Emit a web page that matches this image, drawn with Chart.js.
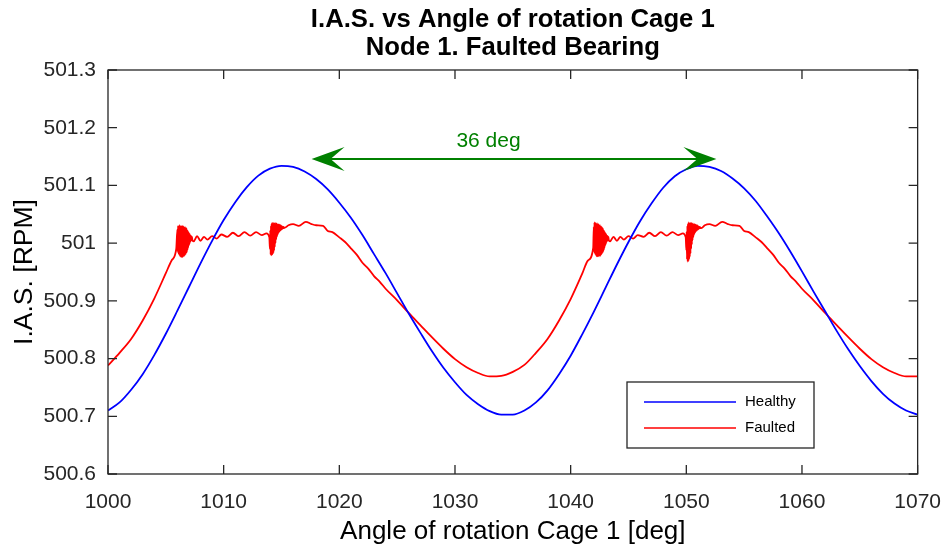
<!DOCTYPE html>
<html>
<head>
<meta charset="utf-8">
<script src="https://cdn.jsdelivr.net/npm/chart.js@4.4.1/dist/chart.umd.min.js"></script>
<style>
  html, body { margin: 0; padding: 0; background: #fff; }
  #wrap { width: 949px; height: 548px; position: relative; }
</style>
</head>
<body>
<div id="wrap"><canvas id="ias"></canvas></div>
<script>
const titleLines = ['I.A.S. vs Angle of rotation Cage 1', 'Node 1. Faulted Bearing']
const xTicks = [1000, 1010, 1020, 1030, 1040, 1050, 1060, 1070]
const yTicks = [500.6, 500.7, 500.8, 500.9, 501, 501.1, 501.2, 501.3]

// healthy, one value per degree from 1000 to 1070
const healthyStart = 1000
const healthy = [
  500.710, 500.724, 500.746, 500.773, 500.806, 500.843, 500.883, 500.924, 500.965, 501.004,
  501.040, 501.071, 501.097, 501.117, 501.129, 501.134, 501.132, 501.124, 501.111, 501.093,
  501.070, 501.044, 501.014, 500.981, 500.948, 500.913, 500.878, 500.845, 500.813, 500.784,
  500.759, 500.737, 500.721, 500.709, 500.703, 500.703, 500.710, 500.724, 500.745, 500.773,
  500.805, 500.842, 500.881, 500.922, 500.963, 501.002, 501.038, 501.069, 501.096, 501.116,
  501.128, 501.134, 501.132, 501.125, 501.112, 501.095, 501.073, 501.046, 501.017, 500.985,
  500.951, 500.916, 500.882, 500.848, 500.816, 500.787, 500.761, 500.739, 500.722, 500.710,
  500.703
]

// faulted, smooth part
const faultedAngles = [
  1000, 1001, 1002, 1003, 1004, 1005, 1005.5, 1005.9,
  1007.4, 1007.7, 1008, 1008.3, 1008.6, 1009, 1009.4, 1009.8, 1010.3, 1010.8, 1011.3, 1011.8,
  1012.3, 1012.8, 1013.3, 1013.7, 1013.95,
  1015.3, 1015.6, 1016, 1016.5, 1017.1, 1017.6, 1018, 1018.6, 1019, 1019.4, 1020, 1020.5,
  1021, 1021.5, 1022, 1022.5, 1023, 1023.5, 1024, 1025, 1026, 1027, 1028, 1029, 1030, 1031,
  1032, 1033, 1034, 1035, 1036, 1037, 1038, 1039, 1040, 1041, 1041.5, 1041.95,
  1043.4, 1043.7, 1044, 1044.3, 1044.6, 1045, 1045.4, 1045.8, 1046.3, 1046.8, 1047.3, 1047.8,
  1048.3, 1048.8, 1049.3, 1049.7, 1049.95,
  1051.3, 1051.6, 1052, 1052.5, 1053.1, 1053.6, 1054, 1054.6, 1055, 1055.4, 1056, 1056.5,
  1057, 1057.5, 1058, 1058.5, 1059, 1059.5, 1060, 1061, 1062, 1063, 1064, 1065, 1066, 1067,
  1068, 1069, 1070
]
const faultedValues = [
  500.788, 500.810, 500.834, 500.866, 500.904, 500.948, 500.970, 500.990,
  501.003, 501.012, 501.004, 501.011, 501.006, 501.012, 501.008, 501.015, 501.011, 501.018, 501.012, 501.019,
  501.013, 501.019, 501.014, 501.017, 501.010,
  501.027, 501.031, 501.033, 501.030, 501.037, 501.033, 501.031, 501.030, 501.021, 501.019, 501.010, 501.002,
  500.991, 500.980, 500.966, 500.956, 500.943, 500.933, 500.921, 500.901, 500.879, 500.858, 500.837, 500.817, 500.799, 500.785,
  500.775, 500.769, 500.770, 500.777, 500.789, 500.810, 500.834, 500.866, 500.903, 500.947, 500.970, 500.992,
  501.003, 501.011, 501.004, 501.011, 501.006, 501.012, 501.008, 501.014, 501.011, 501.018, 501.012, 501.019,
  501.013, 501.019, 501.014, 501.017, 501.010,
  501.026, 501.031, 501.033, 501.030, 501.037, 501.033, 501.031, 501.030, 501.021, 501.019, 501.010, 501.002,
  500.991, 500.980, 500.966, 500.956, 500.943, 500.933, 500.921, 500.901, 500.879, 500.858, 500.837, 500.817, 500.799, 500.785,
  500.775, 500.769, 500.769
]

// faulted, vibration bursts (sampled every 0.03 deg)
const burstStarts = [1006, 1014, 1042, 1050]
const burstStep = 0.03
const burst1 = [
  501.024, 500.985, 501.030, 500.982, 501.029, 500.980, 501.031, 500.978, 501.028, 500.977,
  501.030, 500.976, 501.029, 500.977, 501.030, 500.976, 501.028, 500.978, 501.029, 500.977,
  501.027, 500.979, 501.028, 500.980, 501.026, 500.982, 501.026, 500.984, 501.023, 500.988,
  501.021, 500.992, 501.019, 500.996, 501.017, 500.999, 501.015, 501.002, 501.013, 501.004,
  501.012, 501.005, 501.011, 501.006
]
const burst2 = [
  500.990, 501.022, 500.980, 501.030, 500.979, 501.034, 500.980, 501.035, 500.981, 501.033,
  500.983, 501.035, 500.987, 501.034, 500.993, 501.035, 501.000, 501.033, 501.006, 501.034,
  501.011, 501.032, 501.014, 501.033, 501.017, 501.031, 501.019, 501.032, 501.021, 501.030,
  501.022, 501.031, 501.023, 501.030, 501.024, 501.029, 501.025, 501.028, 501.026, 501.028,
  501.026, 501.027
]
const burst3 = [
  501.028, 500.985, 501.036, 500.982, 501.034, 500.980, 501.035, 500.978, 501.033, 500.977,
  501.034, 500.977, 501.032, 500.978, 501.033, 500.977, 501.030, 500.979, 501.031, 500.978,
  501.029, 500.980, 501.029, 500.981, 501.027, 500.983, 501.026, 500.985, 501.023, 500.988,
  501.021, 500.992, 501.019, 500.996, 501.017, 500.999, 501.015, 501.002, 501.013, 501.004,
  501.012, 501.005, 501.011, 501.006
]
const burst4 = [
  500.988, 501.020, 500.972, 501.030, 500.968, 501.034, 500.969, 501.036, 500.972, 501.034,
  500.976, 501.035, 500.982, 501.034, 500.990, 501.035, 500.998, 501.033, 501.005, 501.034,
  501.010, 501.032, 501.014, 501.033, 501.017, 501.031, 501.019, 501.032, 501.021, 501.030,
  501.022, 501.031, 501.023, 501.030, 501.024, 501.029, 501.025, 501.028, 501.026, 501.028,
  501.026, 501.027
]
const bursts = [burst1, burst2, burst3, burst4]

// arrow annotation
const arrowFrom = 1017.6
const arrowTo = 1052.6
const arrowLevel = 501.146
const arrowText = '36 deg'
const arrowTextAt = [1032.9, 501.177]

const font = '"Liberation Sans", Arial, Helvetica, sans-serif'
const axisColor = '#262626'

const healthyPoints = healthy.map((v, i) => ({x: healthyStart + i, y: v}))
const faultedPoints = faultedAngles.map((a, i) => ({x: a, y: faultedValues[i]}))
bursts.forEach((b, k) => {
  b.forEach((v, i) => faultedPoints.push({x: burstStarts[k] + i * burstStep, y: v}))
})
faultedPoints.sort((a, b) => a.x - b.x)

const frame = {
  id: 'frame',
  afterDatasetsDraw(chart) {
    const {ctx, chartArea: a, scales: {x, y}} = chart
    ctx.save()

    // arrow
    const x1 = x.getPixelForValue(arrowFrom), x2 = x.getPixelForValue(arrowTo)
    const ay = y.getPixelForValue(arrowLevel)
    ctx.strokeStyle = '#008000'
    ctx.fillStyle = '#008000'
    ctx.lineWidth = 2
    ctx.beginPath()
    ctx.moveTo(x1 + 15, ay)
    ctx.lineTo(x2 - 15, ay)
    ctx.stroke()
    const head = (tx, dir) => {
      ctx.beginPath()
      ctx.moveTo(tx, ay)
      ctx.lineTo(tx + dir * 33, ay - 12)
      ctx.lineTo(tx + dir * 19, ay)
      ctx.lineTo(tx + dir * 33, ay + 12)
      ctx.closePath()
      ctx.fill()
    }
    head(x1, 1)
    head(x2, -1)
    ctx.font = '21px ' + font
    ctx.textAlign = 'center'
    ctx.textBaseline = 'middle'
    ctx.fillText(arrowText, x.getPixelForValue(arrowTextAt[0]), y.getPixelForValue(arrowTextAt[1]))

    // box and inward ticks
    ctx.strokeStyle = axisColor
    ctx.lineWidth = 1.3
    ctx.strokeRect(a.left, a.top, a.right - a.left, a.bottom - a.top)
    const tl = 9
    ctx.beginPath()
    xTicks.forEach(t => {
      const px = x.getPixelForValue(t)
      ctx.moveTo(px, a.bottom); ctx.lineTo(px, a.bottom - tl)
      ctx.moveTo(px, a.top); ctx.lineTo(px, a.top + tl)
    })
    yTicks.forEach(t => {
      const py = y.getPixelForValue(t)
      ctx.moveTo(a.left, py); ctx.lineTo(a.left + tl, py)
      ctx.moveTo(a.right, py); ctx.lineTo(a.right - tl, py)
    })
    ctx.stroke()

    // legend
    const lx = 627, ly = 382, lw = 187, lh = 66
    ctx.fillStyle = '#fff'
    ctx.fillRect(lx, ly, lw, lh)
    ctx.lineWidth = 1.3
    ctx.strokeStyle = axisColor
    ctx.strokeRect(lx, ly, lw, lh)
    ctx.font = '15px ' + font
    ctx.textAlign = 'left'
    ctx.textBaseline = 'middle'
    chart.data.datasets.forEach((ds, i) => {
      const yy = ly + 20 + i * 26
      ctx.strokeStyle = ds.borderColor
      ctx.lineWidth = 1.5
      ctx.beginPath()
      ctx.moveTo(lx + 17, yy); ctx.lineTo(lx + 109, yy)
      ctx.stroke()
      ctx.fillStyle = '#000'
      ctx.fillText(ds.label, lx + 118, yy)
    })

    // title
    ctx.fillStyle = '#000'
    ctx.font = 'bold 25.7px ' + font
    ctx.textAlign = 'center'
    const cx = (a.left + a.right) / 2
    titleLines.forEach((t, i) => ctx.fillText(t, cx, 20 + i * 28))
    ctx.restore()
  }
}

new Chart(document.getElementById('ias'), {
  type: 'line',
  data: {
    datasets: [
      {label: 'Healthy', data: healthyPoints, borderColor: '#0000ff', borderWidth: 1.8,
       pointRadius: 0, tension: 0.4, cubicInterpolationMode: 'monotone'},
      {label: 'Faulted', data: faultedPoints, borderColor: '#ff0000', borderWidth: 1.8,
       pointRadius: 0, tension: 0.4, cubicInterpolationMode: 'monotone'}
    ]
  },
  options: {
    responsive: true,
    maintainAspectRatio: false,
    animation: false,
    events: [],
    layout: {padding: {top: 70, right: 29, left: 0, bottom: 0}},
    plugins: {legend: {display: false}, tooltip: {enabled: false}, title: {display: false}},
    scales: {
      x: {
        type: 'linear', min: 1000, max: 1070,
        afterBuildTicks: s => { s.ticks = xTicks.map(v => ({value: v})) },
        afterFit: s => { s.height = 74 },
        grid: {display: false}, border: {display: false},
        ticks: {color: axisColor, font: {family: font, size: 21}, padding: 8,
                maxRotation: 0, autoSkip: false, callback: v => String(v)},
        title: {display: true, text: 'Angle of rotation Cage 1 [deg]', color: '#000',
                font: {family: font, size: 26}, padding: {top: 0, bottom: 1}}
      },
      y: {
        type: 'linear', min: 500.6, max: 501.3,
        afterBuildTicks: s => { s.ticks = yTicks.map(v => ({value: v})) },
        afterFit: s => { s.width = 108 },
        grid: {display: false}, border: {display: false},
        ticks: {color: axisColor, font: {family: font, size: 21}, padding: 4,
                autoSkip: false, callback: v => String(+v.toFixed(1))},
        title: {display: true, text: 'I.A.S. [RPM]', color: '#000',
                font: {family: font, size: 26.5}, padding: {top: 9, bottom: 0}}
      }
    }
  },
  plugins: [frame]
})
</script>
</body>
</html>
